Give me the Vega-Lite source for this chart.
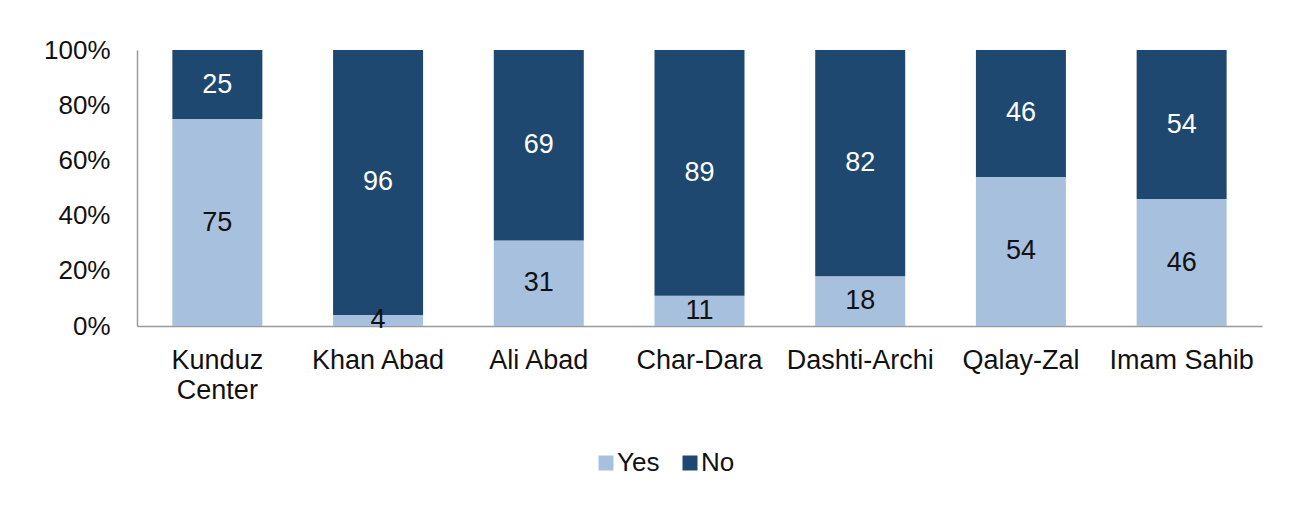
{
  "$schema": "https://vega.github.io/schema/vega-lite/v6.json",
  "width": 1125,
  "height": 276,
  "autosize": "none",
  "padding": {"left": 137, "top": 50, "right": 29, "bottom": 180},
  "background": "white",
  "config": {
    "font": "Liberation Sans",
    "view": {"stroke": null},
    "axis": {"labelFont": "Liberation Sans", "labelColor": "#111111", "labelFontSize": 27}
  },
  "data": {
    "values": [
      {"district": "Kunduz Center", "answer": "Yes", "value": 75},
      {"district": "Kunduz Center", "answer": "No", "value": 25},
      {"district": "Khan Abad", "answer": "Yes", "value": 4},
      {"district": "Khan Abad", "answer": "No", "value": 96},
      {"district": "Ali Abad", "answer": "Yes", "value": 31},
      {"district": "Ali Abad", "answer": "No", "value": 69},
      {"district": "Char-Dara", "answer": "Yes", "value": 11},
      {"district": "Char-Dara", "answer": "No", "value": 89},
      {"district": "Dashti-Archi", "answer": "Yes", "value": 18},
      {"district": "Dashti-Archi", "answer": "No", "value": 82},
      {"district": "Qalay-Zal", "answer": "Yes", "value": 54},
      {"district": "Qalay-Zal", "answer": "No", "value": 46},
      {"district": "Imam Sahib", "answer": "Yes", "value": 46},
      {"district": "Imam Sahib", "answer": "No", "value": 54}
    ]
  },
  "transform": [
    {"stack": "value", "groupby": ["district"], "as": ["y0", "y1"], "sort": [{"field": "answer", "order": "descending"}]},
    {"calculate": "(datum.y0 + datum.y1) / 2", "as": "ymid"}
  ],
  "encoding": {
    "x": {
      "field": "district",
      "type": "nominal",
      "sort": null,
      "title": null,
      "scale": {"paddingInner": 0.44, "paddingOuter": 0.22},
      "axis": {
        "labelAngle": 0,
        "ticks": false,
        "domainColor": "#9a9a9a",
        "domainWidth": 1.5,
        "labelPadding": 21,
        "labelLineHeight": 30,
        "labelBaseline": "top",
        "labelExpr": "datum.label == 'Kunduz Center' ? ['Kunduz', 'Center'] : datum.label"
      }
    }
  },
  "layer": [
    {
      "mark": {"type": "bar"},
      "encoding": {
        "y": {
          "field": "y0",
          "type": "quantitative",
          "scale": {"domain": [0, 100]},
          "title": null,
          "axis": {
            "values": [0, 20, 40, 60, 80, 100],
            "labelExpr": "datum.value + '%'",
            "labelFontSize": 26,
            "grid": false,
            "ticks": false,
            "domainColor": "#9a9a9a",
            "domainWidth": 1.5,
            "labelPadding": 27
          }
        },
        "y2": {"field": "y1"},
        "color": {
          "field": "answer",
          "type": "nominal",
          "scale": {"domain": ["Yes", "No"], "range": ["#a6c0de", "#1f4870"]},
          "legend": {
            "title": null,
            "orient": "none",
            "direction": "horizontal",
            "legendX": 456,
            "legendY": 400,
            "symbolType": "square",
            "symbolSize": 225,
            "symbolStrokeWidth": 0,
            "labelFontSize": 26,
            "labelColor": "#111111",
            "labelFont": "Liberation Sans",
            "labelOffset": -2,
            "columnPadding": 17
          }
        }
      }
    },
    {
      "mark": {"type": "text", "fontSize": 27, "baseline": "middle", "align": "center"},
      "encoding": {
        "y": {"field": "ymid", "type": "quantitative"},
        "text": {"field": "value", "type": "quantitative"},
        "color": {
          "field": "answer",
          "type": "nominal",
          "scale": {"domain": ["Yes", "No"], "range": ["#111111", "#ffffff"]},
          "legend": null
        }
      }
    }
  ],
  "resolve": {"scale": {"color": "independent"}}
}
